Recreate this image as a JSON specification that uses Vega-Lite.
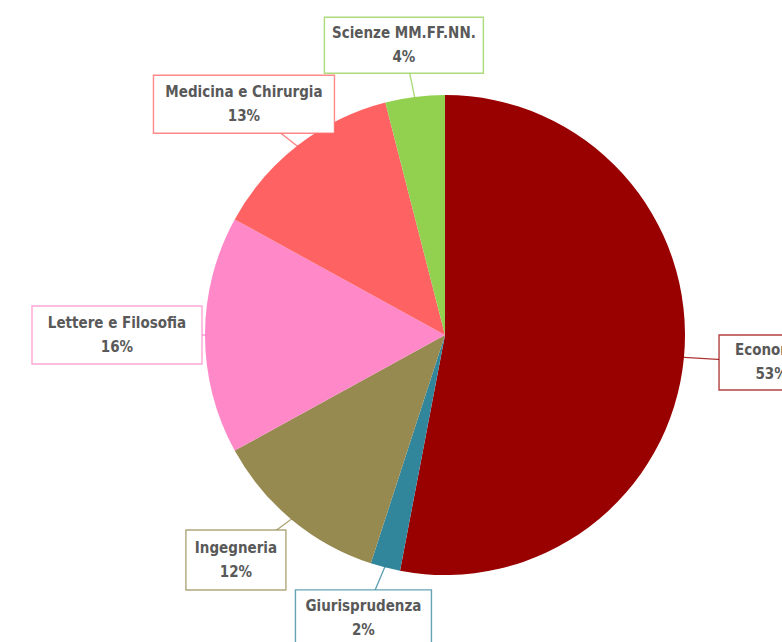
{
  "$schema": "https://vega.github.io/schema/vega-lite/v6.json",
  "width": 674,
  "height": 614,
  "autosize": {"type": "none"},
  "padding": {"left": 108, "top": 28, "right": 0, "bottom": 0},
  "background": "white",
  "config": {"view": {"stroke": null}},
  "data": {
    "values": [
      {"facolta": "Economia", "pct": 53},
      {"facolta": "Giurisprudenza", "pct": 2},
      {"facolta": "Ingegneria", "pct": 12},
      {"facolta": "Lettere e Filosofia", "pct": 16},
      {"facolta": "Medicina e Chirurgia", "pct": 13},
      {"facolta": "Scienze MM.FF.NN.", "pct": 4}
    ]
  },
  "transform": [
    {"window": [{"op": "sum", "field": "pct", "as": "cum"}], "sort": [{"field": "facolta"}], "frame": [null, 0]},
    {"calculate": "2*PI*(datum.cum - datum.pct/2)/100", "as": "ang"},
    {"calculate": "328*sin(datum.ang)", "as": "lx"},
    {"calculate": "292*cos(datum.ang)", "as": "ly"},
    {"calculate": "236*sin(datum.ang)", "as": "tx"},
    {"calculate": "236*cos(datum.ang)", "as": "ty"},
    {"calculate": "datum.facolta + '\\n' + datum.pct + '%'", "as": "label"}
  ],
  "layer": [
    {
      "mark": {"type": "arc", "outerRadius": 240},
      "encoding": {
        "theta": {"field": "pct", "type": "quantitative", "stack": true},
        "order": {"field": "facolta"},
        "color": {
          "field": "facolta", "type": "nominal", "legend": null,
          "scale": {
            "domain": ["Economia", "Giurisprudenza", "Ingegneria", "Lettere e Filosofia", "Medicina e Chirurgia", "Scienze MM.FF.NN."],
            "range": ["#990000", "#31869B", "#968A50", "#FF88C8", "#FF6262", "#92D050"]
          }
        }
      }
    },
    {
      "mark": {"type": "rule", "strokeWidth": 1.3, "opacity": 0.8},
      "encoding": {
        "x": {"field": "tx", "type": "quantitative", "scale": {"domain": [-337, 337], "nice": false, "zero": false}, "axis": null},
        "y": {"field": "ty", "type": "quantitative", "scale": {"domain": [-307, 307], "nice": false, "zero": false}, "axis": null},
        "x2": {"field": "lx"},
        "y2": {"field": "ly"},
        "color": {"field": "facolta", "type": "nominal", "legend": null}
      }
    },
    {
      "mark": {"type": "point", "filled": true, "fill": "white", "size": 10000, "strokeWidth": 1.4, "opacity": 1, "strokeOpacity": 0.75},
      "encoding": {
        "x": {"field": "lx", "type": "quantitative", "scale": {"domain": [-337, 337], "nice": false, "zero": false}, "axis": null},
        "y": {"field": "ly", "type": "quantitative", "scale": {"domain": [-307, 307], "nice": false, "zero": false}, "axis": null},
        "stroke": {"field": "facolta", "type": "nominal", "legend": null,
          "scale": {
            "domain": ["Economia", "Giurisprudenza", "Ingegneria", "Lettere e Filosofia", "Medicina e Chirurgia", "Scienze MM.FF.NN."],
            "range": ["#990000", "#31869B", "#968A50", "#FF88C8", "#FF6262", "#92D050"]
          }
        },
        "shape": {"field": "facolta", "type": "nominal", "legend": null,
          "scale": {
            "domain": ["Economia", "Giurisprudenza", "Ingegneria", "Lettere e Filosofia", "Medicina e Chirurgia", "Scienze MM.FF.NN."],
            "range": [
              "M-1.05,-0.55H1.05V0.55H-1.05Z",
              "M-1.36,-0.56H1.36V0.56H-1.36Z",
              "M-1,-0.6H1V0.6H-1Z",
              "M-1.7,-0.58H1.7V0.58H-1.7Z",
              "M-1.81,-0.58H1.81V0.58H-1.81Z",
              "M-1.59,-0.56H1.59V0.56H-1.59Z"
            ]
          }
        }
      }
    },
    {
      "mark": {"type": "text", "align": "center", "baseline": "middle", "dy": -12, "lineBreak": "\n", "lineHeight": 24, "font": "DejaVu Sans Condensed, DejaVu Sans", "fontWeight": "bold", "fontSize": 15, "fill": "#595959"},
      "encoding": {
        "x": {"field": "lx", "type": "quantitative", "scale": {"domain": [-337, 337], "nice": false, "zero": false}, "axis": null},
        "y": {"field": "ly", "type": "quantitative", "scale": {"domain": [-307, 307], "nice": false, "zero": false}, "axis": null},
        "text": {"field": "label"}
      }
    }
  ]
}
